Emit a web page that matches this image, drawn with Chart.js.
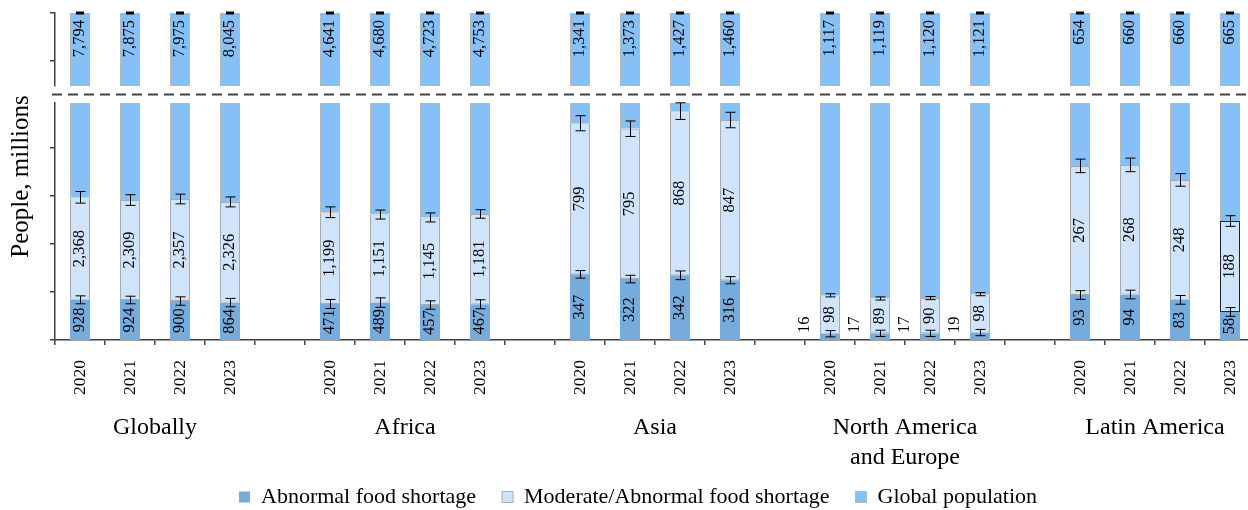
<!DOCTYPE html>
<html>
<head>
<meta charset="utf-8">
<script src="https://cdn.jsdelivr.net/npm/chart.js@4.4.1/dist/chart.umd.min.js"></script>
<style>
  html, body { margin: 0; padding: 0; background: #fff; }
</style>
</head>
<body>
<canvas id="foodChart" width="1248" height="510"></canvas>
<script>
const regions = ["Globally", "Africa", "Asia", ["North America", "and Europe"], "Latin America"];
const years = ["2020", "2021", "2022", "2023"];

const abnormal = [
  [928, 924, 900, 864],
  [471, 489, 457, 467],
  [347, 322, 342, 316],
  [16, 17, 17, 19],
  [93, 94, 83, 58]
];
const moderate = [
  [2368, 2309, 2357, 2326],
  [1199, 1151, 1145, 1181],
  [799, 795, 868, 847],
  [98, 89, 90, 98],
  [267, 268, 248, 188]
];
const population = [
  [7794, 7875, 7975, 8045],
  [4641, 4680, 4723, 4753],
  [1341, 1373, 1427, 1460],
  [1117, 1119, 1120, 1121],
  [654, 660, 660, 665]
];
// +/- ranges
const abnormalErr = [
  [92, 88, 97, 97],
  [59, 62, 55, 59],
  [20, 20, 23, 19],
  [8, 8, 8, 8],
  [9, 9, 9, 9]
];
const moderateErr = [
  [134, 123, 112, 115],
  [70, 59, 59, 56],
  [40, 41, 44, 41],
  [4, 4, 4, 4],
  [14, 14, 13, 11]
];
// every region has its own (hidden) scale below the break; value at the break line
const regionMax = [5475, 3098, 1253, 605, 490];

const colAbn = "#77abdc";
const colMod = "#cfe4fa";
const colPop = "#86c0f7";
const serif = "'Liberation Serif', 'Times New Roman', serif";
const overhang = 7;      // the last slot runs a bit past the right edge
const legendLift = 16;

// 4 years per region, one empty slot between regions
const slotLabels = [];
const firstSlot = [];
regions.forEach((r, i) => {
  firstSlot.push(slotLabels.length);
  years.forEach(y => slotLabels.push(y));
  if (i < regions.length - 1) slotLabels.push("");
});

function spread(values, r) {
  const out = new Array(slotLabels.length).fill(null);
  values.forEach((v, i) => { out[firstSlot[r] + i] = v; });
  return out;
}

const datasets = [];
regions.forEach((name, r) => {
  const axis = "yR" + r;
  datasets.push({
    label: "Abnormal food shortage", kind: "abn", region: r,
    data: spread(abnormal[r], r), yAxisID: axis, stack: "low",
    backgroundColor: colAbn, borderColor: colAbn, borderWidth: 0
  });
  datasets.push({
    label: "Moderate/Abnormal food shortage", kind: "mod", region: r,
    data: spread(moderate[r], r), yAxisID: axis, stack: "low",
    backgroundColor: colMod,
    borderColor: (c) => (r === 4 && c.dataIndex === firstSlot[4] + 3) ? "#222" : "#aaaaaa",
    borderWidth: 1, borderSkipped: false
  });
  datasets.push({
    label: "Global population", kind: "pop", region: r,
    data: spread(population[r], r), yAxisID: axis, stack: "low",
    backgroundColor: colPop, borderColor: "#b8b8b8", borderWidth: 1
  });
});
const topData = new Array(slotLabels.length).fill(null);
population.forEach((p, r) => p.forEach((v, i) => { topData[firstSlot[r] + i] = v; }));
datasets.push({
  label: "Global population", kind: "popTop", data: topData, yAxisID: "yTop",
  backgroundColor: colPop, borderColor: "#b8b8b8", borderWidth: 1, borderSkipped: false
});

const fmt = (v) => v.toLocaleString("en-US");

function vText(ctx, text, x, y, align) {
  ctx.save();
  ctx.translate(x, y);
  ctx.rotate(-Math.PI / 2);
  ctx.textAlign = align;
  ctx.textBaseline = "middle";
  ctx.fillText(text, 0, 0);
  ctx.restore();
}

// put the region scales into the lower panel, stretch the x axes, lift the legend
const fixLayout = {
  id: "fixLayout",
  afterLayout(chart) {
    const low = chart.scales.yLow;
    regions.forEach((r, i) => {
      const s = chart.scales["yR" + i];
      s.top = low.top;
      s.bottom = low.bottom;
      s.height = low.bottom - low.top;
      s.configure();
    });
    ["x", "xGroup"].forEach(id => {
      const s = chart.scales[id];
      s.right = chart.width + overhang;
      s.width = s.right - s.left;
      s.configure();
    });
    chart.legend.top -= legendLift;
    chart.legend.bottom -= legendLift;
  }
};

// clip each dataset to its own panel
const panelClip = {
  id: "panelClip",
  beforeDatasetDraw(chart, args) {
    const s = args.meta.yScale;
    const a = chart.chartArea;
    chart.ctx.save();
    chart.ctx.beginPath();
    chart.ctx.rect(a.left, s.top, a.right - a.left, s.bottom - s.top);
    chart.ctx.clip();
  },
  afterDatasetDraw(chart) {
    chart.ctx.restore();
  }
};

const extras = {
  id: "extras",
  afterDatasetsDraw(chart) {
    const ctx = chart.ctx;
    const xs = chart.scales.x;
    const slot = xs.getPixelForValue(1) - xs.getPixelForValue(0);
    ctx.save();
    ctx.font = "16.5px " + serif;
    ctx.fillStyle = "#000";
    ctx.strokeStyle = "#000";
    ctx.lineWidth = 1;
    chart.data.datasets.forEach((ds, di) => {
      const meta = chart.getDatasetMeta(di);
      if (ds.kind === "popTop") {
        const top = chart.scales.yTop.top;
        meta.data.forEach((bar, i) => {
          if (ds.data[i] === null) return;
          vText(ctx, fmt(ds.data[i]), bar.x, top + 7, "right");
          ctx.fillRect(bar.x - 4, top - 1.5, 8, 3);
        });
        return;
      }
      if (ds.kind !== "abn" && ds.kind !== "mod") return;
      const r = ds.region;
      const scale = chart.scales[ds.yAxisID];
      meta.data.forEach((bar, i) => {
        const k = i - firstSlot[r];
        if (k < 0 || k >= years.length) return;
        const text = fmt(ds.data[i]);
        const h = bar.base - bar.y;
        const w = ctx.measureText(text).width;
        if (h >= w + 4) {
          vText(ctx, text, bar.x, (bar.y + bar.base) / 2, "center");
        } else {
          vText(ctx, text, bar.x - slot / 2, bar.base - 7, "left");
        }
        // whisker
        const val = ds.kind === "abn" ? abnormal[r][k] : abnormal[r][k] + moderate[r][k];
        const err = (ds.kind === "abn" ? abnormalErr : moderateErr)[r][k];
        const y1 = scale.getPixelForValue(val - err);
        const y2 = scale.getPixelForValue(val + err);
        const x = Math.round(bar.x) + 0.5;
        ctx.beginPath();
        ctx.moveTo(x, y1); ctx.lineTo(x, y2);
        ctx.moveTo(x - 5, y1); ctx.lineTo(x + 5, y1);
        ctx.moveTo(x - 5, y2); ctx.lineTo(x + 5, y2);
        ctx.stroke();
      });
    });
    ctx.restore();
  },
  afterDraw(chart) {
    const ctx = chart.ctx;
    const gap = chart.scales.yGap;
    const y = (gap.top + gap.bottom) / 2;
    ctx.save();
    ctx.setLineDash([10, 6]);
    ctx.strokeStyle = "#444";
    ctx.lineWidth = 2;
    ctx.beginPath();
    ctx.moveTo(chart.chartArea.left - 3, y);
    ctx.lineTo(chart.width, y);
    ctx.stroke();
    ctx.setLineDash([]);
    ctx.font = "25px " + serif;
    ctx.fillStyle = "#000";
    vText(ctx, "People, millions", 21, (chart.scales.yTop.top + chart.scales.yLow.bottom) / 2, "center");
    ctx.restore();
  }
};

const axisLine = { color: "#404040", width: 1.5 };
const tickGrid = { drawOnChartArea: false, tickLength: 5, color: "#404040", lineWidth: 1.5 };

const scales = {
  x: {
    type: "category",
    offset: true,
    grid: Object.assign({ offset: true }, tickGrid),
    border: axisLine,
    ticks: {
      autoSkip: false, minRotation: 90, maxRotation: 90, padding: 15,
      color: "#000", font: { family: serif, size: 17.5 }
    },
    afterFit(s) { s.height = 55; s.paddingLeft = 0; s.paddingRight = 0; }
  },
  xGroup: {
    type: "linear",
    position: "bottom",
    offset: false,
    min: -0.5,
    max: slotLabels.length - 0.5,
    grid: { display: false, drawTicks: false },
    border: { display: false },
    ticks: {
      autoSkip: false, minRotation: 0, maxRotation: 0, padding: 18,
      color: "#000", font: { family: serif, size: 24, lineHeight: 1.25 },
      callback: (v, i) => regions[i]
    },
    afterBuildTicks(s) { s.ticks = firstSlot.map(f => ({ value: f + 1.5 })); },
    afterFit(s) { s.height = 81; s.paddingLeft = 0; s.paddingRight = 0; }
  },
  yLow: {
    type: "linear", position: "left", stack: "panels", stackWeight: 237,
    min: 0, max: 4.92,
    grid: tickGrid, border: axisLine,
    ticks: { display: false },
    afterBuildTicks(s) { s.ticks = [0, 1, 2, 3, 4].map(v => ({ value: v })); },
    afterFit(s) { s.width = 27; }
  },
  yGap: {
    type: "linear", position: "left", stack: "panels", stackWeight: 17,
    display: false, min: 0, max: 1
  },
  yTop: {
    type: "linear", position: "left", stack: "panels", stackWeight: 73,
    min: 0, max: 1.52,
    grid: tickGrid, border: axisLine,
    ticks: { display: false },
    afterBuildTicks(s) { s.ticks = [0.52, 1.52].map(v => ({ value: v })); },
    afterFit(s) { s.width = 27; }
  }
};
regions.forEach((r, i) => {
  scales["yR" + i] = {
    type: "linear", axis: "y", position: "left", display: false,
    stacked: true, min: 0, max: regionMax[i]
  };
});

Chart.defaults.font.family = serif;
Chart.defaults.color = "#000";

new Chart(document.getElementById("foodChart"), {
  type: "bar",
  data: { labels: slotLabels, datasets: datasets },
  options: {
    responsive: false,
    animation: false,
    devicePixelRatio: 1,
    events: [],
    grouped: false,
    categoryPercentage: 1,
    barPercentage: 0.4,
    layout: { padding: { left: 28, right: 0, top: 13, bottom: -24 } },
    scales: scales,
    plugins: {
      tooltip: { enabled: false },
      legend: {
        position: "bottom",
        labels: {
          filter: (item) => item.datasetIndex < 3,
          boxWidth: 11, boxHeight: 11, padding: 26,
          color: "#000", font: { family: serif, size: 22 }
        }
      }
    }
  },
  plugins: [fixLayout, panelClip, extras]
});
</script>
</body>
</html>
